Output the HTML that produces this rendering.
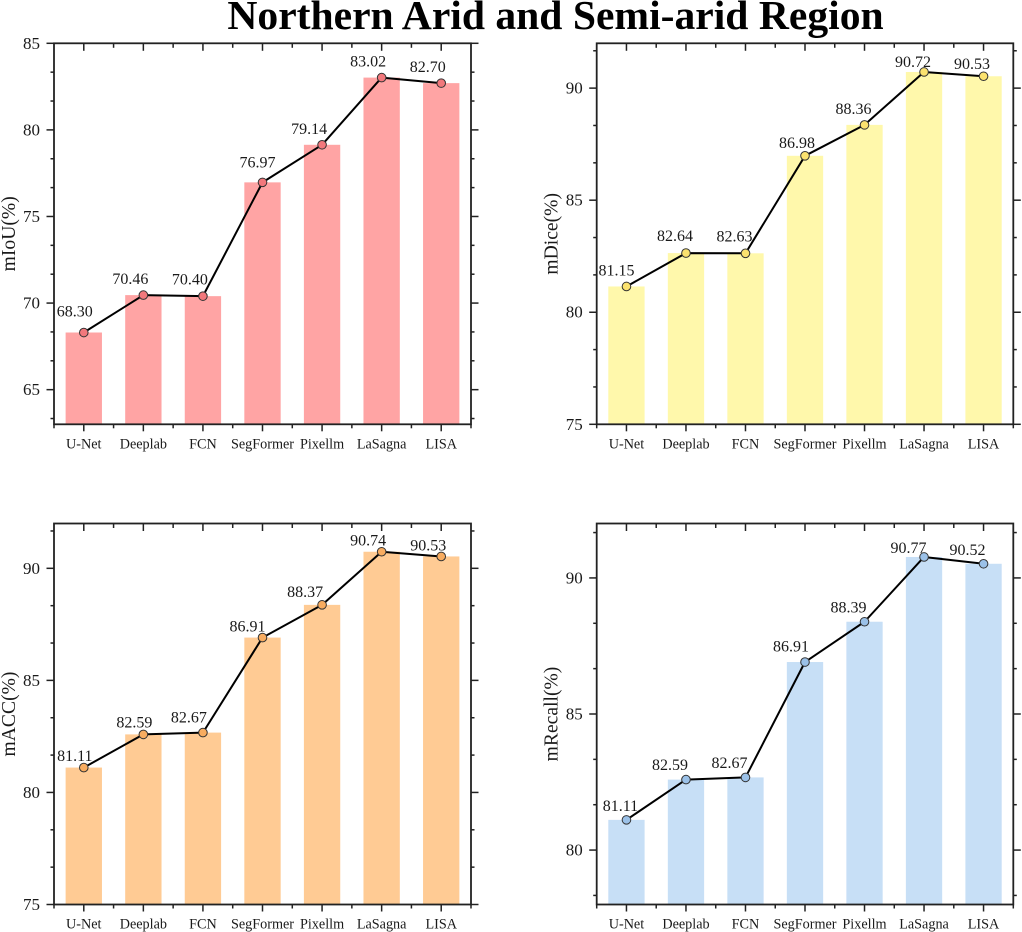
<!DOCTYPE html>
<html lang="en">
<head>
<meta charset="utf-8">
<title>Northern Arid and Semi-arid Region</title>
<style>
html,body{margin:0;padding:0;background:#fff;}
svg{display:block;filter:blur(0.3px);}
text{font-family:"Liberation Serif",serif;fill:#1a1a1a;}
</style>
</head>
<body>
<svg id="figure" xmlns="http://www.w3.org/2000/svg" width="1022" height="932" viewBox="0 0 1022 932">
<rect width="1022" height="932" fill="#fff"/>
<text x="555.5" y="29" text-anchor="middle" font-size="41.6" font-weight="700" style="fill:#000">Northern Arid and Semi-arid Region</text>
</svg>
<script>
const categories = ["U-Net", "Deeplab", "FCN", "SegFormer", "Pixellm", "LaSagna", "LISA"];

const miouValues = [68.30, 70.46, 70.40, 76.97, 79.14, 83.02, 82.70];
const diceValues = [81.15, 82.64, 82.63, 86.98, 88.36, 90.72, 90.53];
const accValues = [81.11, 82.59, 82.67, 86.91, 88.37, 90.74, 90.53];
const recallValues = [81.11, 82.59, 82.67, 86.91, 88.39, 90.77, 90.52];

const miouTicks = [65, 70, 75, 80, 85];
const diceTicks = [75, 80, 85, 90];
const accTicks = [75, 80, 85, 90];
const recallTicks = [80, 85, 90];

const miouRange = [63, 85];
const diceRange = [75, 92];
const accRange = [75, 92];
const recallRange = [78, 92];

/* Hand-placed label nudges, relative to each point (layout, not data). */
const miouNudge = [[-9,-16],[-13,-11],[-13,-11.5],[-5,-15],[-13,-11],[-13.5,-11],[-13.5,-11]];
const diceNudge = [[-10,-11],[-11,-12],[-11,-12],[-8,-8],[-11,-11],[-11,-5],[-11.5,-7]];
const accNudge = [[-9,-6.5],[-9,-7],[-14,-10],[-15,-6],[-17,-8],[-13.5,-6],[-13,-6]];
const recallNudge = [[-6,-9],[-16,-9.5],[-16,-9.5],[-14,-10.5],[-16,-9],[-15.5,-4],[-16,-9]];

const NS = "http://www.w3.org/2000/svg";
const root = document.getElementById("figure");

function mk(tag, parent, attrs, txt) {
  const el = document.createElementNS(NS, tag);
  for (const k in attrs) el.setAttribute(k, attrs[k]);
  if (txt !== undefined) el.textContent = txt;
  parent.appendChild(el);
  return el;
}

function drawPanel(p) {
  const g = mk("g", root, {});
  
  

  const n = categories.length;
  const xOf = i => p.left + (i + 0.5) * (p.right - p.left) / n;
  const yOf = v => p.bottom - (v - p.range[0]) / (p.range[1] - p.range[0]) * (p.bottom - p.top);
  const barW = 0.61 * (p.right - p.left) / n;

  /* bars */
  p.values.forEach((v, i) => {
    const bar = mk("rect", g, {
      x: xOf(i) - barW / 2, y: yOf(v), width: barW,
      height: Math.max(0, p.bottom - yOf(v)), fill: p.barColor
    });
    
    
  });

  /* frame */
  const frame = mk("rect", g, {
    x: p.left, y: p.top, width: p.right - p.left, height: p.bottom - p.top,
    fill: "none", stroke: "#222", "stroke-width": 1.8
  });
  
  

  /* y ticks */
  const step = p.ticks[1] - p.ticks[0];
  const minorStep = step / 3;
  const drawYTick = (v, major) => {
    const y = yOf(v);
    const len = major ? 7.5 : 3.5;
    const l = mk("line", g, { x1: p.left - len, x2: p.left, y1: y, y2: y, stroke: "#222", "stroke-width": 1.5 });
    
    
    const r = mk("line", g, { x1: p.right, x2: p.right + len, y1: y, y2: y, stroke: "#222", "stroke-width": 1.5 });
    
    
  };
  p.ticks.forEach(t => {
    drawYTick(t, true);
    const label = mk("text", g, { x: p.left - 14, y: yOf(t) + 5.5, "text-anchor": "end", "font-size": 17 }, String(t));
    
    
    for (let k = 1; k <= 2; k++) {
      if (t + k * minorStep <= p.range[1]) drawYTick(t + k * minorStep, false);
      if (t === p.ticks[0] && t - k * minorStep >= p.range[0]) drawYTick(t - k * minorStep, false);
    }
  });

  /* x ticks */
  for (let k = 0; k <= 2 * n; k++) {
    const x = p.left + k * (p.right - p.left) / (2 * n);
    const major = k % 2 === 1;
    const b = mk("line", g, { x1: x, x2: x, y1: p.bottom, y2: p.bottom + (major ? 7 : 4), stroke: "#222", "stroke-width": 1.5 });
    
    
    if (k > 0 && k < 2 * n) {
      const t = mk("line", g, { x1: x, x2: x, y1: p.top, y2: p.top + (major ? 7.5 : 4.5), stroke: "#222", "stroke-width": 1.5 });
      
      
    }
  }

  /* category labels */
  categories.forEach((c, i) => {
    const label = mk("text", g, { x: xOf(i), y: p.bottom + 24, "text-anchor": "middle", "font-size": 14.2 }, c);
    
    
  });

  /* axis title */
  const title = mk("text", g, {
    transform: "translate(" + (p.left - 39) + "," + ((p.top + p.bottom) / 2) + ") rotate(-90)",
    "text-anchor": "middle", "font-size": 19.6
  }, p.title);
  
  

  /* line */
  const line = mk("polyline", g, {
    points: p.values.map((v, i) => xOf(i) + "," + yOf(v)).join(" "),
    fill: "none", stroke: "#000", "stroke-width": 2, "stroke-linejoin": "round"
  });
  
  

  /* markers and labels */
  p.values.forEach((v, i) => {
    const dot = mk("circle", g, { cx: xOf(i), cy: yOf(v), r: 4.3, fill: p.dotColor, stroke: "#333", "stroke-width": 1 });
    
    
    const label = mk("text", g, {
      x: xOf(i) + p.nudge[i][0], y: yOf(v) + p.nudge[i][1],
      "text-anchor": "middle", "font-size": 16
    }, v.toFixed(2));
    
    
  });
}

drawPanel({ key: "miou", title: "mIoU(%)", values: miouValues, ticks: miouTicks, range: miouRange, nudge: miouNudge,
  left: 54, right: 471, top: 43.3, bottom: 424.3, barColor: "#ffa4a4", dotColor: "#f2787c" });
drawPanel({ key: "dice", title: "mDice(%)", values: diceValues, ticks: diceTicks, range: diceRange, nudge: diceNudge,
  left: 596.7, right: 1013.3, top: 43.3, bottom: 424.3, barColor: "#fff8ab", dotColor: "#fbe26f" });
drawPanel({ key: "acc", title: "mACC(%)", values: accValues, ticks: accTicks, range: accRange, nudge: accNudge,
  left: 54, right: 471, top: 523.5, bottom: 904.5, barColor: "#ffcb94", dotColor: "#f8ac60" });
drawPanel({ key: "recall", title: "mRecall(%)", values: recallValues, ticks: recallTicks, range: recallRange, nudge: recallNudge,
  left: 596.7, right: 1013.3, top: 523.5, bottom: 904.5, barColor: "#c7dff6", dotColor: "#9bc1e8" });
</script>
</body>
</html>
